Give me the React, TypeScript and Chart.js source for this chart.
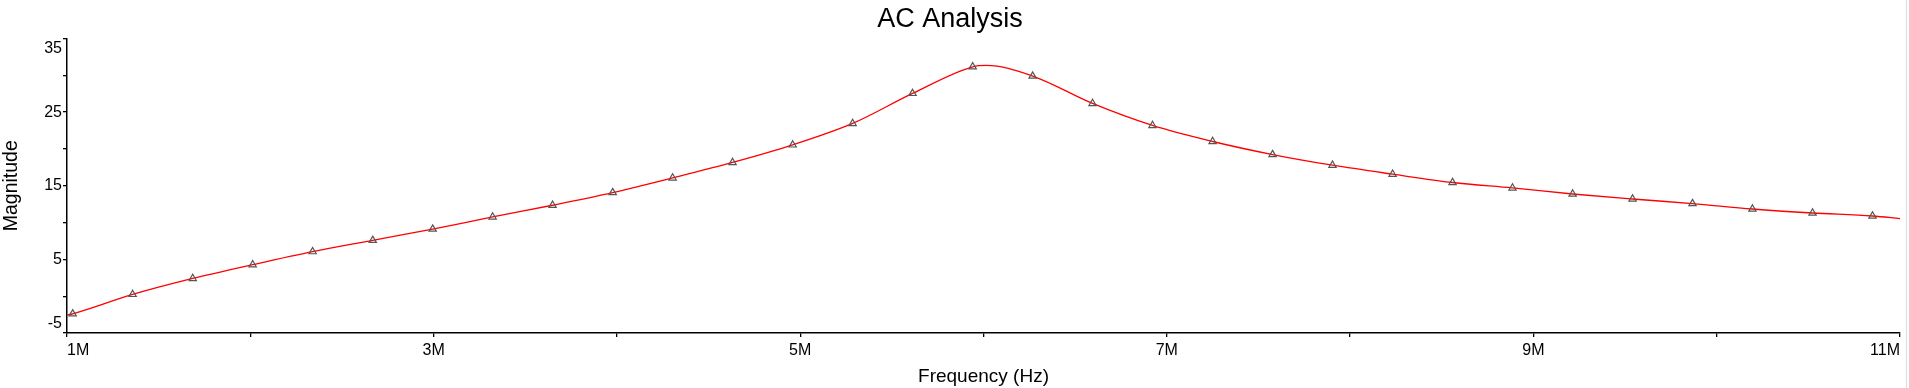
import React, { useEffect, useRef } from 'react';
import { Chart, registerables } from 'chart.js';

Chart.register(...registerables);

// Marker (simulation sample) frequencies in MHz and magnitudes
const markerFreqMHz = [
  1.031, 1.358, 1.686, 2.013, 2.340, 2.668, 2.995, 3.322, 3.649, 3.977,
  4.304, 4.631, 4.959, 5.286, 5.613, 5.941, 6.268, 6.595, 6.922, 7.250,
  7.577, 7.904, 8.232, 8.559, 8.886, 9.214, 9.541, 9.868, 10.195, 10.523,
  10.850,
];
const markerMagnitude = [
  -2.39, 0.24, 2.41, 4.28, 6.05, 7.59, 9.12, 10.76, 12.35, 14.07,
  16.06, 18.16, 20.55, 23.46, 27.54, 31.16, 29.9, 26.18, 23.19, 21.01,
  19.24, 17.79, 16.57, 15.44, 14.7, 13.88, 13.2, 12.58, 11.84, 11.3,
  10.89,
];

// Extra curve points visible on the red trace (axis ends and the resonance top)
const curveExtraFreqMHz = [1.0, 6.015, 11.0];
const curveExtraMagnitude = [-2.55, 31.35, 10.54];

const xTickValues = [1, 3, 5, 7, 9, 11];
const xTickLabels = ['1M', '3M', '5M', '7M', '9M', '11M'];
const yTickValues = [-5, 5, 15, 25, 35];
const yTickLabels = ['-5', '5', '15', '25', '35'];

const FONT = "'Liberation Sans', Arial, sans-serif";

export default function App() {
  const canvasRef = useRef<HTMLCanvasElement | null>(null);

  useEffect(() => {
    if (!canvasRef.current) return;
    const markers = markerFreqMHz.map((f, i) => ({ x: f, y: markerMagnitude[i] }));
    const curve = markers
      .concat(curveExtraFreqMHz.map((f, i) => ({ x: f, y: curveExtraMagnitude[i] })))
      .sort((a, b) => a.x - b.x);

    const chart = new Chart(canvasRef.current, {
      type: 'line',
      data: {
        datasets: [
          {
            label: 'markers',
            data: markers,
            showLine: false,
            pointStyle: 'triangle',
            pointRadius: 4.2,
            pointBorderWidth: 1.2,
            pointBorderColor: '#555555',
            pointBackgroundColor: 'rgba(0,0,0,0)',
            borderColor: '#555555',
            backgroundColor: 'rgba(0,0,0,0)',
          },
          {
            label: 'Magnitude',
            data: curve,
            borderColor: '#ff0000',
            borderWidth: 1.3,
            pointRadius: 0,
            cubicInterpolationMode: 'monotone',
            fill: false,
          },
        ],
      },
      options: {
        responsive: false,
        animation: false,
        events: [],
        layout: { padding: { left: 0, right: 9, top: 0, bottom: 0 } },
        plugins: {
          legend: { display: false },
          tooltip: { enabled: false },
          title: {
            display: true,
            text: 'AC Analysis',
            color: '#000',
            font: { family: FONT, size: 27, weight: 'normal', lineHeight: 1.2 },
            padding: { top: 3, bottom: 3.1 },
          },
        },
        scales: {
          x: {
            type: 'linear',
            min: 1,
            max: 11,
            afterFit: (s: any) => {
              s.height = 55;
            },
            ticks: {
              stepSize: 1,
              autoSkip: false,
              maxRotation: 0,
              align: 'inner',
              padding: 4,
              color: '#000',
              font: { family: FONT, size: 16 },
              callback: (v: any) => {
                const i = xTickValues.findIndex((t) => Math.abs(t - Number(v)) < 1e-6);
                return i >= 0 ? xTickLabels[i] : '';
              },
            },
            grid: {
              drawOnChartArea: false,
              drawTicks: true,
              tickLength: 4,
              color: '#000',
              lineWidth: 1.3,
            },
            border: { display: true, color: '#000', width: 1.5 },
            title: {
              display: true,
              text: 'Frequency (Hz)',
              color: '#000',
              font: { family: FONT, size: 19, lineHeight: 1.2 },
              padding: { top: 0, bottom: 0 },
            },
          },
          y: {
            type: 'linear',
            min: -5,
            max: 35,
            afterFit: (s: any) => {
              s.width = 67;
            },
            ticks: {
              stepSize: 5,
              autoSkip: false,
              padding: 1,
              color: '#000',
              font: { family: FONT, size: 16, lineHeight: 1.2 },
              callback: (v: any) => {
                const n = Number(v);
                const i = yTickValues.findIndex((t) => Math.abs(t - n) < 1e-6);
                if (i < 0) return '';
                if (i === yTickValues.length - 1) return ['', yTickLabels[i]];
                if (i === 0) return [yTickLabels[i], ''];
                return yTickLabels[i];
              },
            },
            grid: {
              drawOnChartArea: false,
              drawTicks: true,
              tickLength: 4,
              color: '#000',
              lineWidth: 1.3,
            },
            border: { display: true, color: '#000', width: 1.5 },
            title: {
              display: true,
              text: 'Magnitude',
              color: '#000',
              font: { family: FONT, size: 19.5, lineHeight: 1.2 },
              padding: { top: 0, bottom: 0 },
            },
          },
        },
      },
    } as any);

    return () => chart.destroy();
  }, []);

  return (
    <div
      style={{
        position: 'fixed',
        left: 0,
        top: 0,
        width: 1909,
        height: 388,
        background: '#fff',
        overflow: 'hidden',
      }}
    >
      <canvas ref={canvasRef} width={1909} height={388} style={{ display: 'block' }} />
      <div
        style={{
          position: 'absolute',
          left: 1906,
          top: 0,
          width: 1,
          height: 388,
          background: '#dcdcdc',
        }}
      />
    </div>
  );
}
